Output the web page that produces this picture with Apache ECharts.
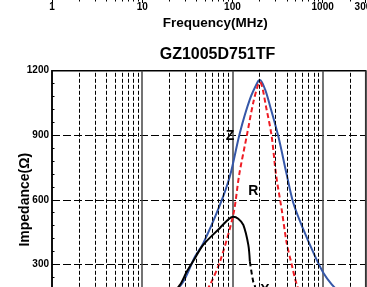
<!DOCTYPE html>
<html>
<head>
<meta charset="utf-8">
<script src="https://cdn.jsdelivr.net/npm/echarts@6/dist/echarts.min.js"></script>
<style>
html,body{margin:0;padding:0;background:#fff;overflow:hidden;width:367px;height:287px;}
#c{position:absolute;left:0;top:-100px;width:367px;height:460px;}
</style>
</head>
<body>
<div id="c"></div>
<script>
// ---- data (frequency MHz, impedance Ohm) ----
const chartTitle = 'GZ1005D751TF';
const xName = 'Frequency(MHz)';
const yName = 'Impedance(\u03A9)';
const yTicks = [0, 300, 600, 900, 1200];
const decadeFreqs = [1, 10, 100, 1000];
const minorFreqs = [2,3,4,5,6,7,8,9,20,30,40,50,60,70,80,90,200,300,400,500,600,700,800,900,2000];
const zData = [[1,8],[5,38],[10,75],[20,150],[28.5,219],[38.4,335],[47.4,397],[72.7,576],[93.8,710],[121,912],[156,1067],[193,1152],[202,1157],[230,1113],[261,1036],[322,896],[399,718],[472,586],[609,463],[822,338],[1016,261],[1259,207],[1500,175],[2000,130],[3000,90]];
const rData = [[1,1],[10,10],[30,70],[45,140],[56.3,204],[72.7,312],[102,529],[119,718],[144,896],[170,1051],[193,1137],[202,1147],[239,1020],[272,896],[304,718],[351,556],[399,400],[453,300],[515,207],[600,140],[800,80],[1000,50],[3000,10]];
const xSolidData = [[1,8],[5,38],[10,75],[20,150],[26.2,204],[31.1,265],[38.4,328],[47.4,390],[72.7,469],[88,505],[102,521],[116,512],[132,483],[150,390],[156,312]];
const xDashData = [[156,312],[170,219],[178,196],[190,110],[200,20]];
const labelPos = {Z: [94, 896], R: [170, 641], X: [229, 180]};

const FONT = '"Liberation Sans", Arial, sans-serif';
const chart = echarts.init(document.getElementById('c'), null, {renderer: 'canvas'});

function lbl(txt, pos) {
  return {
    symbol: 'circle', symbolSize: 0, silent: true,
    label: {show: true, position: 'inside', formatter: txt, color: '#000', fontFamily: FONT, fontWeight: 'bold', fontSize: 14},
    data: [{coord: pos, value: txt}]
  };
}

chart.setOption({
  animation: false,
  backgroundColor: '#fff',
  title: {
    text: chartTitle, left: 217.5, top: 147, textAlign: 'center', padding: 0,
    textStyle: {fontFamily: FONT, fontWeight: 'bold', fontSize: 16, color: '#000'}
  },
  grid: [
    {left: 52, right: 1.3, top: 170.7, bottom: 31.2, show: true, borderColor: '#000', borderWidth: 1.5,
      backgroundColor: 'transparent', containLabel: false, outerBoundsMode: 'none'},
    {left: 52, right: 1.3, top: 10, bottom: 361, containLabel: false, outerBoundsMode: 'none'}
  ],
  xAxis: [
    {
      type: 'log', logBase: 10, min: 1, max: 3000, gridIndex: 0,
      axisLine: {show: true, lineStyle: {color: '#000', width: 1.5}},
      axisTick: {show: true, inside: true, length: 4, lineStyle: {color: '#000'}},
      axisLabel: {color: '#000', fontFamily: FONT, fontWeight: 'bold', fontSize: 10, formatter: v => String(Math.round(v))},
      splitLine: {show: true, lineStyle: {color: '#444', width: 1.5, type: 'solid'}}
    },
    {
      type: 'value', gridIndex: 1, min: 0, max: Math.log10(3000), interval: 1, position: 'bottom',
      axisLine: {show: true, lineStyle: {color: '#000', width: 1.5}},
      axisTick: {show: true, length: 4, lineStyle: {color: '#000', width: 1}},
      axisLabel: {show: true, margin: 3, color: '#000', fontFamily: FONT, fontWeight: 'bold', fontSize: 10,
        showMaxLabel: true, formatter: v => String(Math.round(Math.pow(10, v)))},
      splitLine: {show: false},
      name: xName, nameLocation: 'middle', nameGap: 17,
      nameTextStyle: {color: '#000', fontFamily: FONT, fontWeight: 'bold', fontSize: 13.5, padding: [0, 0, 0, 13]}
    },
    {
      type: 'value', gridIndex: 1, min: 0, max: Math.log10(3000), position: 'bottom',
      axisLine: {show: false},
      axisTick: {show: true, length: 2.5, lineStyle: {color: '#000', width: 1}, customValues: minorFreqs.map(f => Math.log10(f))},
      axisLabel: {show: false},
      splitLine: {show: false}
    }
  ],
  yAxis: [
    {
      type: 'value', gridIndex: 0, min: yTicks[0], max: yTicks[yTicks.length - 1], interval: 300,
      axisLine: {show: true, lineStyle: {color: '#000', width: 1.5}},
      axisTick: {show: true, inside: true, length: 4, lineStyle: {color: '#000'}},
      minorTick: {show: true, splitNumber: 5, length: 2.5, lineStyle: {color: '#000'}},
      axisLabel: {margin: 3, color: '#000', fontFamily: FONT, fontWeight: 'bold', fontSize: 10, formatter: v => String(v)},
      splitLine: {show: true, lineStyle: {color: '#000', width: 1.2, type: [8, 3]}},
      name: yName, nameLocation: 'middle', nameGap: 20, nameMoveOverlap: false,
      nameTextStyle: {color: '#000', fontFamily: FONT, fontWeight: 'bold', fontSize: 14}
    },
    {type: 'value', gridIndex: 1, min: 0, max: 1, show: false}
  ],
  series: [
    {
      type: 'line', xAxisIndex: 0, yAxisIndex: 0, data: [], z: 1, silent: true,
      markLine: {
        silent: true, symbol: ['none', 'none'], label: {show: false},
        lineStyle: {color: '#000', width: 1, type: [4, 2]},
        data: minorFreqs.map(f => ({xAxis: f}))
      }
    },
    {
      name: 'Z', type: 'line', data: zData, smooth: 0.3, showSymbol: false, z: 3,
      lineStyle: {color: '#3557a8', width: 2}, itemStyle: {color: '#3557a8'},
      markPoint: lbl('Z', labelPos.Z)
    },
    {
      name: 'R', type: 'line', data: rData, smooth: 0.3, showSymbol: false, z: 4,
      lineStyle: {color: '#ee1c24', width: 2, type: [5, 3]}, itemStyle: {color: '#ee1c24'},
      markPoint: lbl('R', labelPos.R)
    },
    {
      name: 'X', type: 'line', data: xSolidData, smooth: 0.3, showSymbol: false, z: 5,
      lineStyle: {color: '#000', width: 2}, itemStyle: {color: '#000'},
      markPoint: lbl('X', labelPos.X)
    },
    {
      name: 'Xd', type: 'line', data: xDashData, smooth: 0.3, showSymbol: false, z: 5,
      lineStyle: {color: '#000', width: 2, type: [5, 3]}, itemStyle: {color: '#000'}
    }
  ]
});
</script>
</body>
</html>
